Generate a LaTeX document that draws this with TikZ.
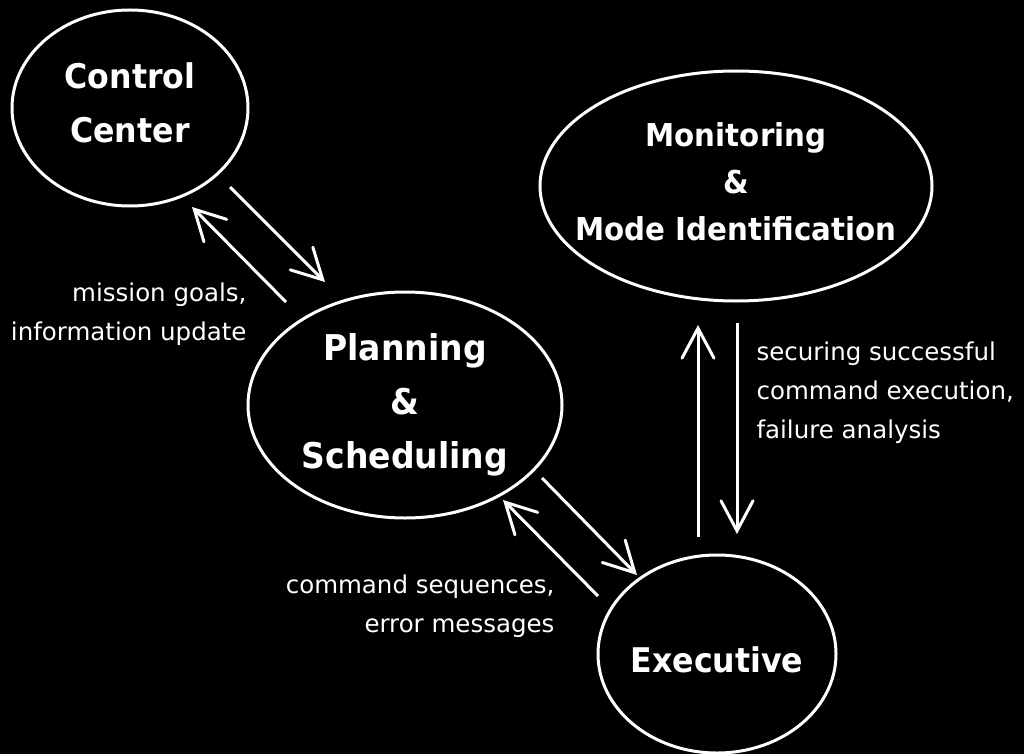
\documentclass[tikz,border=0pt]{standalone}
\usepackage{fontspec}
\setmainfont{DejaVu Sans}
\newfontfamily\blobfont{DejaVu Sans Bold}[FakeStretch=0.93]
\usetikzlibrary{arrows.meta,shapes.geometric}

\begin{document}
\begin{tikzpicture}[
    x=1pt, y=-1pt,
    blob/.style={draw=white, ellipse, line width=3pt, inner xsep=-40pt,
        inner ysep=0pt, text=white, align=center,
        font=\blobfont\fontsize{34}{54}\selectfont},
    arr/.style={-{Straight Barb[length=30pt,width=32pt,line cap=round]},
        draw=white, line width=3pt},
    lbl/.style={text=white, font=\fontsize{24.5}{39}\selectfont}
]
    \fill[black] (0,0) rectangle (1024,754);
    \useasboundingbox (0,0) rectangle (1024,754);

    \node[blob, minimum width=236pt, minimum height=196pt, text depth=10pt]
        (cc) at (130,108) {Control\\Center};
    \node[blob, minimum width=392pt, minimum height=230pt, text depth=8pt,
        font=\blobfont\fontsize{31.5}{47}\selectfont] (mmi) at (736,186)
        {Monitoring\\\&\\Mode Identification};
    \node[blob, minimum width=314pt, minimum height=226pt,
        font=\blobfont\fontsize{35.5}{54}\selectfont] (ps) at (405,405)
        {Planning\\\&\\Scheduling};
    \node[blob, minimum width=238pt, minimum height=198pt, text height=37pt]
        (ex) at (717,654) {Executive};

    \coordinate (cc1) at (230,187);
    \coordinate (ps1) at (325,282);
    \coordinate (ps2) at (286,302);
    \coordinate (cc2) at (192,207);
    \coordinate (ps3) at (542,478);
    \coordinate (ex1) at (637,575);
    \coordinate (ex2) at (598,596);
    \coordinate (ps4) at (503,500);
    \coordinate (ex3) at (698,537);
    \coordinate (mmi1) at (698,325);
    \coordinate (mmi2) at (737,323);
    \coordinate (ex4) at (737,534);

    \draw[arr] (cc1) -- (ps1);
    \draw[arr] (ps2) -- (cc2);
    \draw[arr] (ps3) -- (ex1);
    \draw[arr] (ex2) -- (ps4);
    \draw[arr] (ex3) -- (mmi1);
    \draw[arr] (mmi2) -- (ex4);

    \node[lbl, anchor=east, align=right] (goals) at (250,314)
        {mission goals,\\information update};
    \node[lbl, anchor=west, align=left] (secure) at (753,393)
        {securing successful\\command execution,\\failure analysis};
    \node[lbl, anchor=east, align=right] (cmds) at (558,606)
        {command sequences,\\error messages};
\end{tikzpicture}
\end{document}
